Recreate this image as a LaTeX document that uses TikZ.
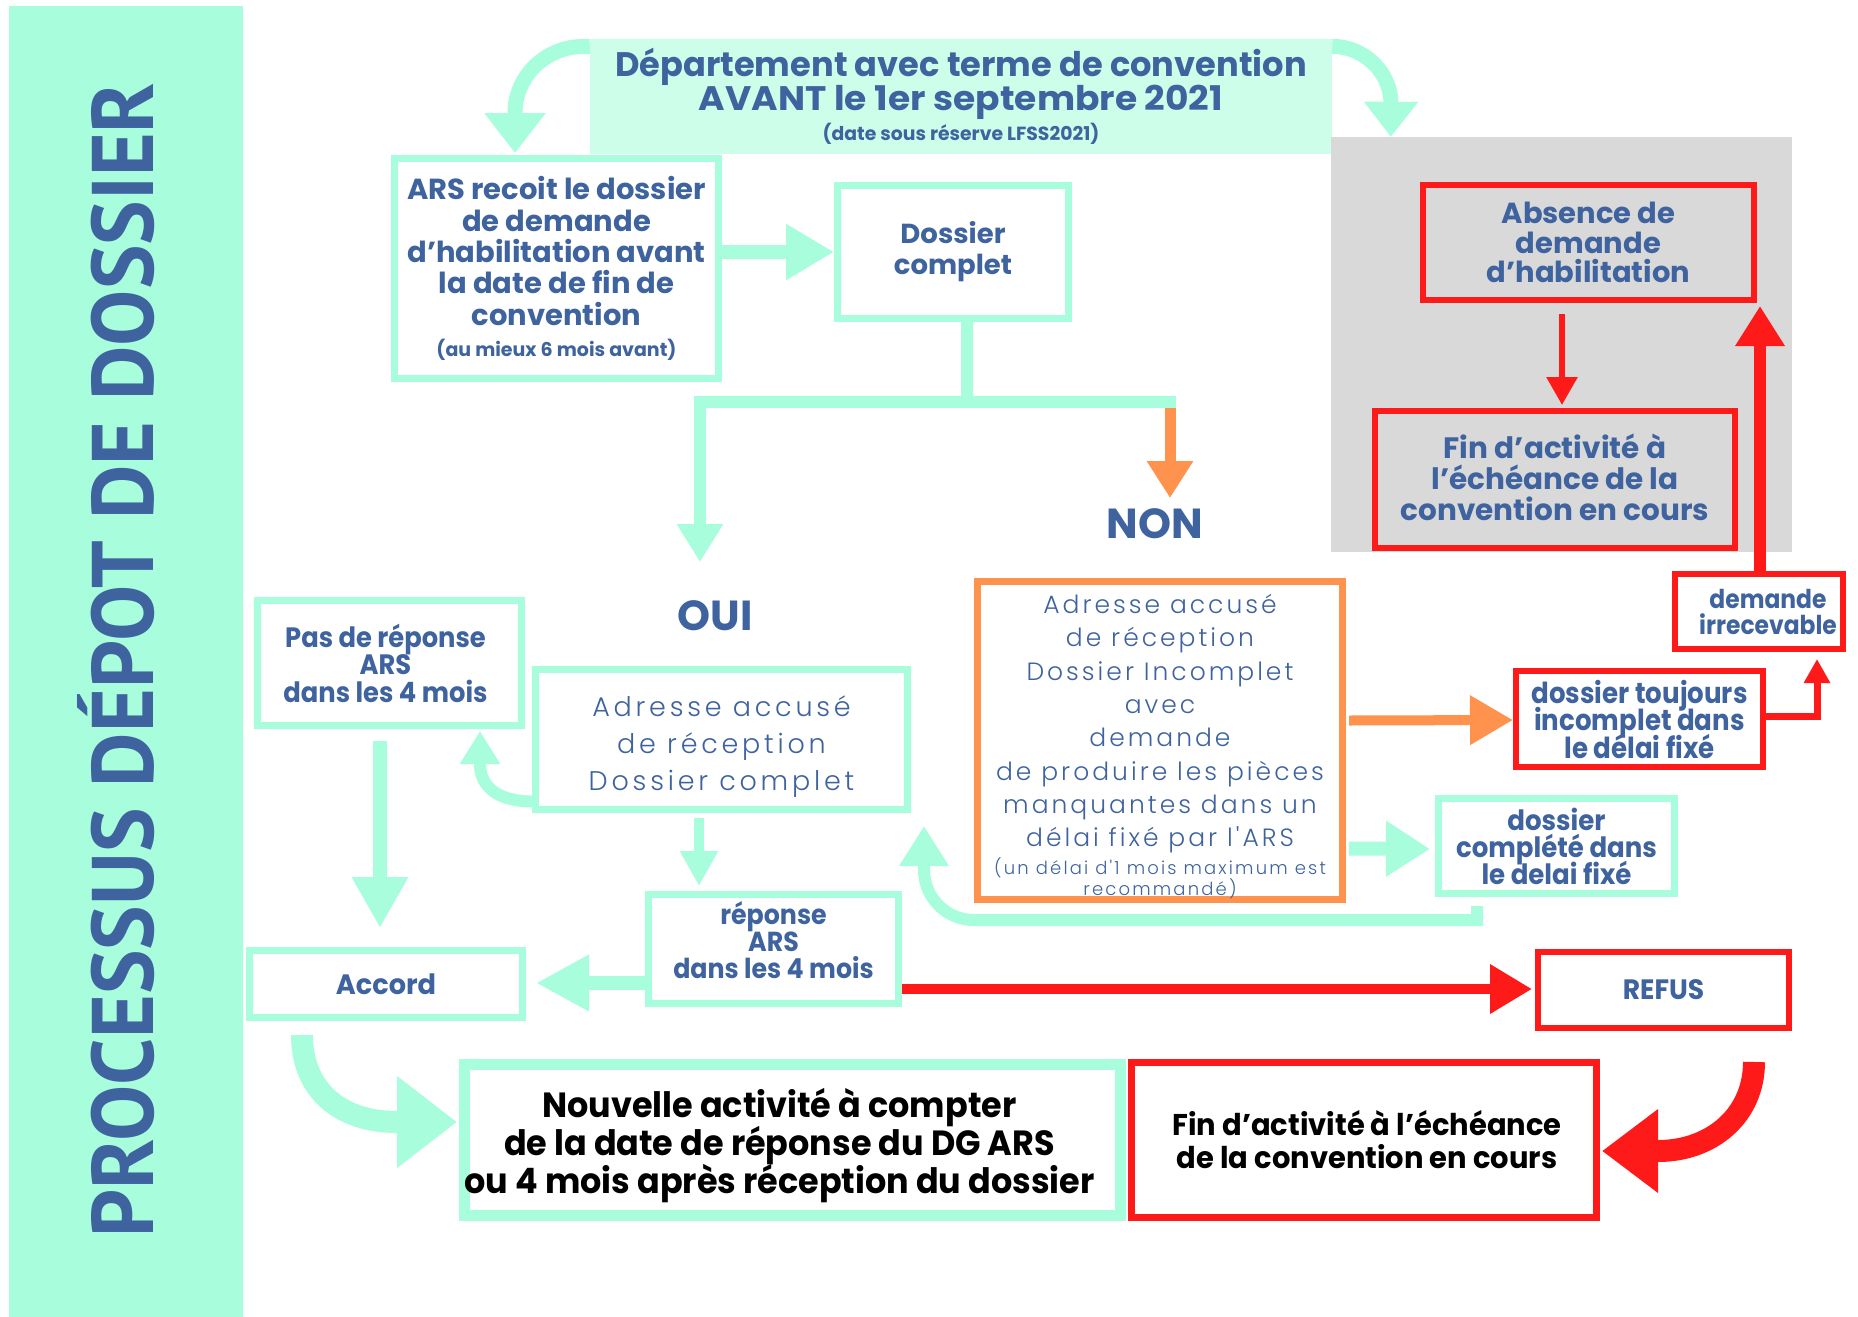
\documentclass[tikz,border=0pt]{standalone}
\usepackage{graphicx}
\usepackage{fontspec}
\setmainfont{Poppins}
\newfontfamily\lightfont{Poppins Light}
\newfontfamily\titlefont{PT Sans}
\usetikzlibrary{arrows.meta,calc}
\definecolor{mint}{RGB}{168,253,220}
\definecolor{hdr}{RGB}{204,254,234}
\definecolor{txtblue}{RGB}{62,99,158}
\definecolor{myred}{RGB}{255,26,26}
\definecolor{myorange}{RGB}{255,146,77}
\definecolor{mygray}{RGB}{217,217,217}
\newcommand{\ctext}[4]{\scalebox{#1}[1]{\vbox{\fontsize{#2}{#3}\selectfont\lineskiplimit=-1000pt\relax\let\\\cr\halign{\hfil##\hfil\cr#4\crcr}}}}
\newcommand{\movedown}[2]{\raisebox{0pt}[\dimexpr\height+#1*2\relax][\depth]{#2}}
\newcommand{\moveup}[2]{\raisebox{0pt}[\height][\dimexpr\depth+#1*2\relax]{#2}}
\begin{document}
\begin{tikzpicture}[x=1pt,y=-1pt,
  mbox/.style={draw=mint, line width=7pt, inner sep=0pt, text=txtblue, font=\bfseries},
  rbox/.style={draw=myred, line width=6pt, inner sep=0pt, text=txtblue, font=\bfseries},
  obox/.style={draw=myorange, line width=7pt, inner sep=0pt, text=txtblue},
  lbl/.style={inner sep=0pt, text=txtblue, font=\bfseries\fontsize{42}{42}\selectfont},
]
\fill[white] (0,0) rectangle (1858,1317);
\useasboundingbox (0,0) rectangle (1858,1317);

\node[fill=mint, inner sep=0pt, minimum width=234pt, minimum height=1311pt] (band) at (126,661.5) {};
\node[rotate=90, inner sep=0pt, text=txtblue] (title) at (116,660) {\resizebox{1155pt}{76pt}{\titlefont\bfseries PROCESSUS DÉPOT DE DOSSIER}};

\node[fill=hdr, inner sep=0pt, minimum width=742pt, minimum height=115pt, text=txtblue, font=\bfseries] (hdr) at (961,96.5) {\ctext{0.99}{34}{34}{Département avec terme de convention\\\scalebox{1.07}[1]{AVANT le 1er septembre 2021}\\\noalign{\vskip-4pt}\fontsize{19}{22}\selectfont(date sous réserve LFSS2021)}};
\node[fill=mygray, inner sep=0pt, minimum width=461pt, minimum height=415pt] (grey) at (1561.5,344.5) {};

\node[mbox, minimum width=324pt, minimum height=220pt] (ars) at (556.5,268.5) {\ctext{1}{29}{31.3}{ARS recoit le dossier\\de demande\\d'habilitation avant\\la date de fin de\\convention\\\fontsize{19}{22}\selectfont(au mieux 6 mois avant)}};
\node[mbox, minimum width=231pt, minimum height=133pt] (dc) at (953,252) {\ctext{1}{27.5}{31}{Dossier\\complet}};
\node[lbl] (oui) at (715,616) {OUI};
\node[lbl] (non) at (1155,524) {NON};
\node[mbox, minimum width=264pt, minimum height=125pt] (pas) at (389.5,663) {\hspace*{-8pt}\ctext{0.92}{28}{27.5}{Pas de réponse\\ARS\\dans les 4 mois}};
\node[mbox, minimum width=372pt, minimum height=140pt, font=\lightfont\addfontfeature{LetterSpace=14}] (ouibox) at (721.5,739.5) {\movedown{7pt}{\ctext{1}{27}{37}{Adresse accusé\\de réception\\Dossier complet}}};
\node[mbox, minimum width=250pt, minimum height=109pt] (rep) at (773.5,949) {\moveup{9pt}{\ctext{0.92}{27.5}{27}{réponse\\ARS\\dans les 4 mois}}};
\node[mbox, minimum width=273pt, minimum height=67pt] (accord) at (386,984) {\ctext{0.97}{28}{30}{Accord}};
\node[rbox, minimum width=251pt, minimum height=76pt] (refus) at (1663.5,990) {\ctext{0.95}{28}{30}{REFUS}};
\node[obox, minimum width=365pt, minimum height=318pt, font=\lightfont\addfontfeature{LetterSpace=12}] (nonbox) at (1160,740.5) {\movedown{6pt}{\ctext{1}{25}{33.3}{Adresse accusé\\de réception\\Dossier Incomplet\\avec\\demande\\de produire les pièces\\manquantes dans un\\délai fixé par l'ARS\\\noalign{\vskip-6pt}\fontsize{18}{22}\selectfont(un délai d'1 mois maximum est\\\noalign{\vskip-12pt}\fontsize{18}{22}\selectfont recommandé)}}};
\node[rbox, minimum width=247pt, minimum height=96pt] (toujours) at (1639.5,719) {\ctext{0.9}{29}{27.5}{dossier toujours\\incomplet dans\\le délai fixé}};
\node[rbox, minimum width=168pt, minimum height=75pt] (irre) at (1759,611.5) {\hspace*{18pt}\ctext{0.9}{26}{26}{demande\\irrecevable}};
\node[rbox, minimum width=331pt, minimum height=115pt] (absence) at (1588.5,242.5) {\ctext{1}{29}{29.5}{Absence de\\demande\\d'habilitation}};
\node[rbox, minimum width=360pt, minimum height=137pt] (findact) at (1555,479.5) {\moveup{2pt}{\ctext{1}{29.5}{31}{Fin d'activité à\\l’échéance de la\\convention en cours}}};
\node[mbox, minimum width=236pt, minimum height=95pt] (complete) at (1556.5,846) {\ctext{0.93}{28}{27}{dossier\\complété dans\\le delai fixé}};
\node[mbox, line width=11pt, minimum width=656pt, minimum height=151pt, text=black] (nouvelle) at (792.5,1140) {\hspace*{-26pt}\movedown{6pt}{\ctext{0.955}{35}{38}{Nouvelle activité à compter\\de la date de réponse du DG ARS\\ou 4 mois après réception du dossier}}};
\node[rbox, line width=7pt, minimum width=465pt, minimum height=155pt, text=black] (finbot) at (1364,1140) {\hspace*{6pt}\ctext{0.965}{30}{33}{Fin d'activité à l’échéance\\de la convention en cours}};

% connectors
\draw[mint, line width=15pt, -{Triangle[width=59pt,length=40pt]}] ($(hdr.north west)+(0,7.5)$) -- (583,46.5) .. controls (546,46.5) and (515,76) .. (515,113) -- ($(ars.north west)+(124,-2)$);
\draw[mint, line width=15pt, -{Triangle[width=52pt,length=35pt]}] ($(hdr.north east)+(0,7.5)$) .. controls (1364,46.5) and (1391,72) .. (1391,104) -- ($(grey.north west)+(60,0)$);
\draw[mint, line width=14pt, -{Triangle[width=53pt,length=48pt]}] (ars.east |- dc.west) -- (dc.west);
\coordinate (jr) at (1176,402);
\coordinate (jl) at (700,402);
\draw[mint, line width=12pt] ($(dc.south)+(14,0)$) -- ($(dc.south)+(14,80)$);
\draw[mint, line width=12pt, -{Triangle[width=44pt,length=38pt]}] (jr) -- (jl) -- ($(jl)+(0,160)$);
\draw[myorange, line width=11pt, -{Triangle[width=44pt,length=37pt]}] ($(jr)+(-6,6)$) -- ($(jr)+(-6,96)$);
\draw[mint, line width=12pt, -{Triangle[width=38pt,length=33pt]}] ($(ouibox.west)+(0,62)$) .. controls (503,801.5) and (480,790) .. (480,764) -- ($(pas.south west)+(226,2)$);
\draw[mint, line width=14pt, -{Triangle[width=53pt,length=51pt]}] ($(pas.south west)+(126,12)$) -- ($(accord.north west)+(134,-19)$);
\draw[mint, line width=10pt, -{Triangle[width=36pt,length=35pt]}] ($(ouibox.south west)+(167,5)$) -- ($(rep.north west)+(54,-5)$);
\draw[mint, line width=14pt, -{Triangle[width=53pt,length=53pt]}] ($(rep.west)+(0,34)$) -- ($(accord.east)+(10,-1)$);
\draw[myred, line width=10pt, -{Triangle[width=47pt,length=42pt]}] ($(rep.east)+(0,40)$) -- ($(refus.west)+(-3,-1)$);
\draw[myorange, line width=10pt, -{Triangle[width=47pt,length=43pt]}] ($(nonbox.east)+(3,-20)$) -- ($(toujours.west)+(0,1)$);
\draw[myred, line width=7pt, -{Triangle[width=25pt,length=24pt]}] ($(toujours.east)+(0,-3)$) -| ($(irre.south west)+(145,7)$);
\draw[myred, line width=12pt, -{Triangle[width=47pt,length=40pt]}] ($(irre.north west)+(88,0)$) -- ($(absence.south east)+(3,3)$);
\draw[myred, line width=6pt, -{Triangle[width=30pt,length=28pt]}] ($(absence.south west)+(142,11)$) -- ($(findact.north west)+(190,-3)$);
\draw[mint, line width=14pt, -{Triangle[width=53pt,length=44pt]}] ($(nonbox.east)+(3,108)$) -- ($(complete.west)+(-5,3)$);
\draw[mint, line width=12pt, -{Triangle[width=47pt,length=40pt]}] ($(complete.south west)+(42,9)$) -- (1477,920) -- (974,920) .. controls (946.4,920) and (924,897.6) .. (924,870) -- ($(ouibox.south east)+(13,13)$);
\draw[mint, line width=22pt, -{Triangle[width=88pt,length=60pt]}] ($(accord.south west)+(56,14)$) .. controls (302,1090) and (340,1122) .. (397,1122) -- ($(nouvelle.west)+(-2,-18)$);
\draw[myred, line width=22pt, -{Triangle[width=80pt,length=56pt]}] ($(refus.south east)+(-38,31)$) .. controls (1754,1115) and (1712,1151) .. (1658,1151) -- ($(finbot.east)+(2,11)$);
\end{tikzpicture}
\end{document}
